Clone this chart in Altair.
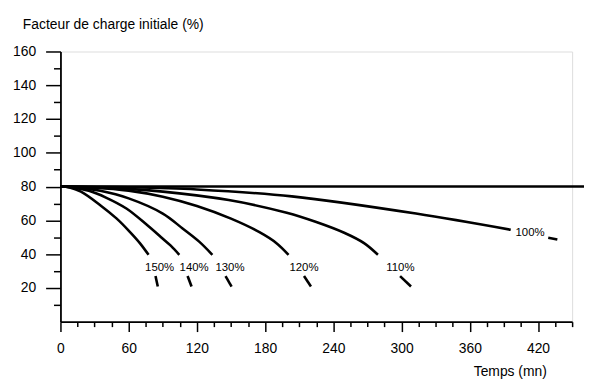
import altair as alt
import pandas as pd

# Curves: time (min) and initial load factor (%)
c150_t = [0, 8, 18, 35, 49.5, 61, 70, 77.5]
c150_v = [80, 79.5, 77, 69, 61, 53.2, 46.4, 39.6]
c140_t = [0, 10, 25, 40, 58, 75.7, 88.5, 97, 104.5]
c140_v = [80, 79.5, 77.5, 73.5, 67, 57.5, 50, 45, 39.6]
c130_t = [0, 15, 35, 60, 90, 107.4, 122, 133.6]
c130_v = [80, 79.4, 77.5, 73, 64, 55.2, 47.4, 39.6]
c120_t = [0, 30, 60, 90, 120, 150, 175, 190, 200.6]
c120_v = [80, 79.4, 77.6, 74, 68.5, 61, 53, 46.5, 39.6]
c110_t = [0, 40, 90, 148, 199, 225, 250, 267, 279.2]
c110_v = [80, 79.4, 77, 72, 64.5, 59, 52.5, 46.5, 39.6]
c100_t = [0, 60, 120, 203.5, 312.7, 396]
c100_v = [80, 79.6, 78.3, 74.2, 64, 54.4]
flat_t = [0, 461]
flat_v = [80, 80]

# Short continuation strokes below the labels
tails = {
    "150%": ([83.6, 85.6], [27, 20.8]),
    "140%": ([111.8, 115.3], [27, 20.8]),
    "130%": ([145.2, 150.5], [27, 20.8]),
    "120%": ([214.2, 220.3], [27, 20.8]),
    "110%": ([298.7, 308.3], [27, 20.8]),
    "100%": ([429, 437], [49.7, 48.6]),
}

# Labels
label_text = ["150%", "140%", "130%", "120%", "110%", "100%"]
label_t = [87.2, 117.6, 149.1, 214.2, 299, 413]
label_v = [31.9, 31.9, 31.9, 31.9, 31.9, 52.4]

x_ticks = list(range(0, 451, 15))
y_ticks = list(range(10, 161, 10))

rows = []
for name, (ts, vs) in {
    "150%": (c150_t, c150_v), "140%": (c140_t, c140_v), "130%": (c130_t, c130_v),
    "120%": (c120_t, c120_v), "110%": (c110_t, c110_v), "100%": (c100_t, c100_v),
    "flat": (flat_t, flat_v),
}.items():
    for t, v in zip(ts, vs):
        rows.append({"id": name, "t": t, "v": v})
curves = pd.DataFrame(rows)

trows = []
for name, (ts, vs) in tails.items():
    for t, v in zip(ts, vs):
        trows.append({"id": "tail" + name, "t": t, "v": v})
tail_df = pd.DataFrame(trows)

labels = pd.DataFrame({"txt": label_text, "t": label_t, "v": label_v})

FONT = "Liberation Sans"

x_enc = alt.X(
    "t:Q",
    scale=alt.Scale(domain=[0, 450], nice=False, zero=False),
    axis=alt.Axis(
        values=x_ticks,
        labelExpr="datum.value % 60 === 0 ? datum.label : ''",
        tickSize={"condition": {"test": "datum.value % 60 === 0", "value": 10}, "value": 5},
        labelPadding=10.5,
        labelFont=FONT, labelFontSize=14, labelColor="black",
        domainColor="black", domainWidth=1.8, tickColor="black", tickWidth=1.5,
        grid=False, labelFlush=False, labelOverlap=False,
        title="Temps (mn)", titleFont=FONT, titleFontSize=14, titleFontWeight="normal",
        titleColor="black", titleAlign="center", titleBaseline="alphabetic",
        titleX=454, titleY=54.5,
    ),
)
y_enc = alt.Y(
    "v:Q",
    scale=alt.Scale(domain=[0, 160], nice=False),
    axis=alt.Axis(
        values=y_ticks,
        labelExpr="datum.value % 20 === 0 ? datum.label : ''",
        tickSize={"condition": {"test": "datum.value % 20 === 0", "value": 15}, "value": 7},
        labelPadding=10,
        labelFont=FONT, labelFontSize=14, labelColor="black",
        domainColor="black", domainWidth=1.8, tickColor="black", tickWidth=1.5,
        grid=False, labelFlush=False, labelOverlap=False,
        title="Facteur de charge initiale (%)", titleFont=FONT, titleFontSize=14,
        titleFontWeight="normal", titleColor="black", titleAngle=0,
        titleAlign="left", titleBaseline="alphabetic", titleX=-38.5, titleY=-23.5,
    ),
)

lines = alt.Chart(curves).mark_line(
    color="black", strokeWidth=2.6, interpolate="catmull-rom", clip=False
).encode(x=x_enc, y=y_enc, detail="id:N")

tail_lines = alt.Chart(tail_df).mark_line(
    color="black", strokeWidth=2.6, clip=False
).encode(x=x_enc, y=y_enc, detail="id:N")

texts = alt.Chart(labels).mark_text(
    font=FONT, fontSize=11.5, color="black", align="center", baseline="middle"
).encode(x=x_enc, y=y_enc, text="txt:N")

chart = alt.layer(lines, tail_lines, texts).properties(
    width=517, height=273,
    autosize=alt.AutoSizeParams(type="none"),
    padding={"left": 53, "top": 42, "right": 12, "bottom": 58},
).configure_view(stroke=None).configure(background="white")

chart.save("out.html", embed_options={"renderer": "svg", "actions": False})
